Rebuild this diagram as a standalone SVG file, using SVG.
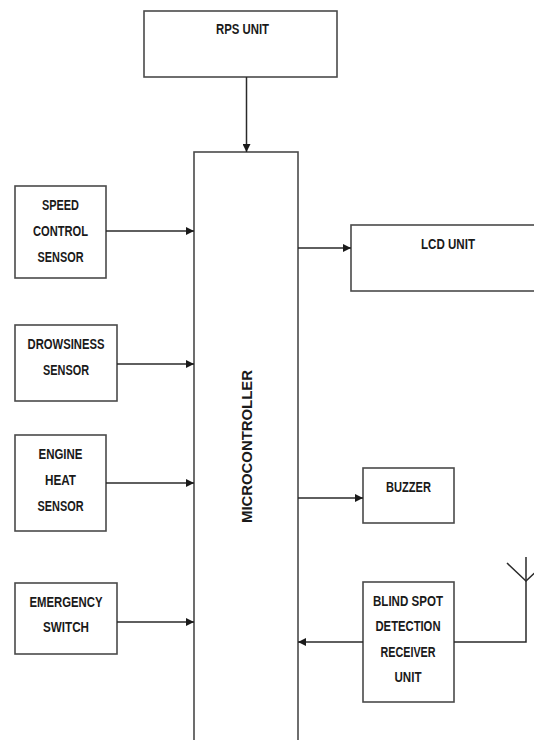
<svg xmlns="http://www.w3.org/2000/svg" width="534" height="740" viewBox="0 0 534 740">
<style>
.box{fill:#fff;stroke:#4a4a4a;stroke-width:1.6}
.ln{fill:none;stroke:#2a2a2a;stroke-width:1.5}
text{font-family:"Liberation Sans",Arial,sans-serif;font-weight:bold;font-size:14px;fill:#1a1a1a;text-anchor:middle;dominant-baseline:central}
</style>
<defs>
<marker id="ah" viewBox="0 0 10 10" refX="10" refY="5" markerWidth="8" markerHeight="8" markerUnits="userSpaceOnUse" orient="auto">
<path d="M0,0 L10,5 L0,10 Z" fill="#1a1a1a"/>
</marker>
</defs>
<rect width="534" height="740" fill="#fff"/>
<g id="rps"><rect class="box" x="144" y="11" width="193" height="66"/><text x="242.5" y="29" textLength="53" lengthAdjust="spacingAndGlyphs">RPS UNIT</text></g>
<g id="micro"><rect class="box" x="194" y="152" width="104" height="600"/><text transform="translate(247,446.5) rotate(-90)" x="0" y="0" textLength="153" lengthAdjust="spacingAndGlyphs">MICROCONTROLLER</text></g>
<g id="speed"><rect class="box" x="15" y="186" width="91" height="92"/><text x="60.5" y="205" textLength="37" lengthAdjust="spacingAndGlyphs">SPEED</text><text x="60.5" y="231" textLength="55" lengthAdjust="spacingAndGlyphs">CONTROL</text><text x="60.5" y="257" textLength="46" lengthAdjust="spacingAndGlyphs">SENSOR</text></g>
<g id="drowsy"><rect class="box" x="15" y="325" width="102" height="76"/><text x="66" y="344" textLength="77" lengthAdjust="spacingAndGlyphs">DROWSINESS</text><text x="66" y="370" textLength="46" lengthAdjust="spacingAndGlyphs">SENSOR</text></g>
<g id="engine"><rect class="box" x="15" y="435" width="91" height="96"/><text x="60.5" y="454" textLength="44" lengthAdjust="spacingAndGlyphs">ENGINE</text><text x="60.5" y="480" textLength="31" lengthAdjust="spacingAndGlyphs">HEAT</text><text x="60.5" y="506" textLength="46" lengthAdjust="spacingAndGlyphs">SENSOR</text></g>
<g id="emergency"><rect class="box" x="15" y="583" width="102" height="71"/><text x="66" y="602" textLength="73" lengthAdjust="spacingAndGlyphs">EMERGENCY</text><text x="66" y="627" textLength="46" lengthAdjust="spacingAndGlyphs">SWITCH</text></g>
<g id="lcd"><rect class="box" x="351" y="225" width="190" height="66"/><text x="448" y="244" textLength="54" lengthAdjust="spacingAndGlyphs">LCD UNIT</text></g>
<g id="buzzer"><rect class="box" x="363" y="468" width="91" height="55"/><text x="408.5" y="487" textLength="45" lengthAdjust="spacingAndGlyphs">BUZZER</text></g>
<g id="blindspot"><rect class="box" x="363" y="582" width="91" height="120"/><text x="408" y="601" textLength="70" lengthAdjust="spacingAndGlyphs">BLIND SPOT</text><text x="408" y="626" textLength="65" lengthAdjust="spacingAndGlyphs">DETECTION</text><text x="408" y="652" textLength="55" lengthAdjust="spacingAndGlyphs">RECEIVER</text><text x="408" y="677" textLength="27" lengthAdjust="spacingAndGlyphs">UNIT</text></g>
<g id="connectors">
<line class="ln" x1="246.5" y1="77" x2="246.5" y2="152" marker-end="url(#ah)"/>
<line class="ln" x1="106" y1="231" x2="194" y2="231" marker-end="url(#ah)"/>
<line class="ln" x1="117" y1="364" x2="194" y2="364" marker-end="url(#ah)"/>
<line class="ln" x1="106" y1="483" x2="194" y2="483" marker-end="url(#ah)"/>
<line class="ln" x1="117" y1="622" x2="194" y2="622" marker-end="url(#ah)"/>
<line class="ln" x1="298" y1="248" x2="351" y2="248" marker-end="url(#ah)"/>
<line class="ln" x1="298" y1="498" x2="363" y2="498" marker-end="url(#ah)"/>
<line class="ln" x1="363" y1="642" x2="298" y2="642" marker-end="url(#ah)"/>
<polyline class="ln" points="454,642 526,642 526,557"/>
<polyline class="ln" points="507,563 526,581 545,563"/>
</g>
</svg>
